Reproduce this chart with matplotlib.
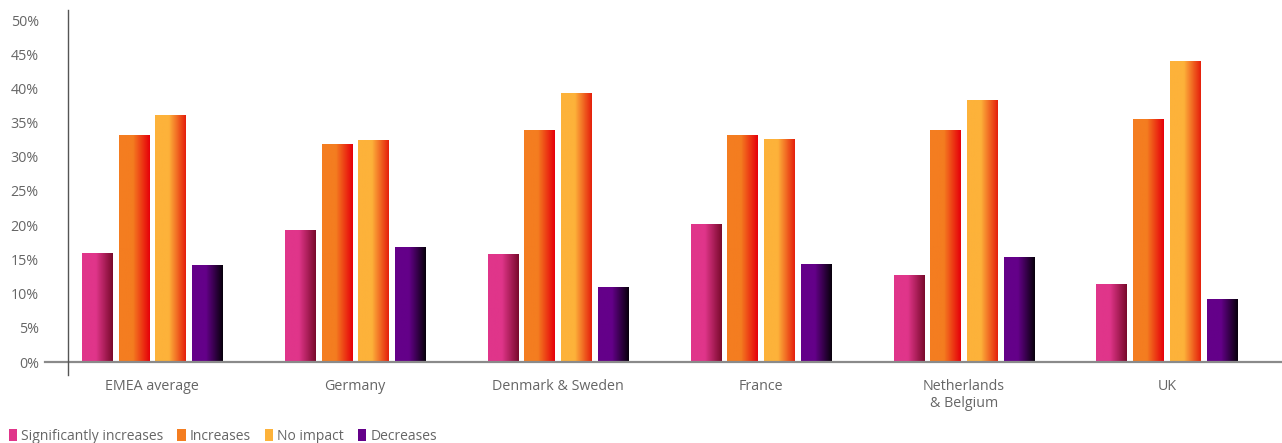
import numpy as np
import matplotlib
matplotlib.use('Agg')
from matplotlib import pyplot as plt
from matplotlib.colors import LinearSegmentedColormap
from matplotlib.patches import Patch

plt.rcParams['font.family'] = ['Open Sans', 'DejaVu Sans']

countries = ['EMEA average', 'Germany', 'Denmark & Sweden', 'France', 'Netherlands\n& Belgium', 'UK']
series = ['Significantly increases', 'Increases', 'No impact', 'Decreases']
sig_increases = [15.9, 19.2, 15.7, 20.1, 12.6, 11.3]
increases = [33.1, 31.8, 33.9, 33.1, 33.9, 35.4]
no_impact = [36.0, 32.4, 39.3, 32.5, 38.2, 43.9]
decreases = [14.1, 16.7, 10.9, 14.2, 15.3, 9.2]
yticks = [0, 5, 10, 15, 20, 25, 30, 35, 40, 45, 50]

values = [sig_increases, increases, no_impact, decreases]
# left colour, right (shaded) colour
grads = [('#e0358a', '#7a0a2c'),
         ('#f47d20', '#e6000a'),
         ('#fdb23a', '#e5200c'),
         ('#640089', '#08000c')]

fig = plt.figure(figsize=(12.82, 4.43), dpi=100)
ax = fig.add_axes([68/1282, 81/443, 1214/1282, 342/443])

x = np.arange(len(countries))
step = 0.182
width = 0.148
grad = np.linspace(0, 1, 64).reshape(1, -1)

for k, (vals, (c0, c1)) in enumerate(zip(values, grads)):
    cmap = LinearSegmentedColormap.from_list('g%d' % k, [(0, c0), (0.45, c0), (1, c1)])
    bars = ax.bar(x + (k - 1.5) * step, vals, width, color=c0, linewidth=0, zorder=2)
    for b in bars:
        x0, y0 = b.get_x(), b.get_y()
        ax.imshow(grad, cmap=cmap, aspect='auto', zorder=3,
                  extent=[x0, x0 + b.get_width(), y0, y0 + b.get_height()])

ax.set_xlim(-0.414, 5.567)
ax.set_ylim(0, 50)
ax.set_xticks(x)
ax.set_xticklabels(countries)
ax.set_yticks(yticks)
ax.set_yticklabels(['%d%%' % t for t in yticks])
ax.tick_params(length=0, labelsize=10.3, colors='#666666')
ax.tick_params(axis='y', pad=21)
ax.tick_params(axis='x', pad=12)
for s in ax.spines.values():
    s.set_visible(False)

# axis lines
ax.plot([-0.019, 1.0], [0, 0], transform=ax.transAxes, color='#8a8a8a', lw=1.6, clip_on=False, zorder=4)
ax.plot([0, 0], [-0.038, 1.03], transform=ax.transAxes, color='#555555', lw=1, clip_on=False, zorder=4)

handles = [Patch(facecolor=c0, label=s) for s, (c0, c1) in zip(series, grads)]
fig.legend(handles=handles, loc='lower left', bbox_to_anchor=(-0.003, -0.03), ncol=4, frameon=False,
           fontsize=10, handlelength=0.6, handleheight=1.0, handletextpad=0.3, columnspacing=1.0,
           labelcolor='#666666')

fig.savefig('out.png', dpi=100)
